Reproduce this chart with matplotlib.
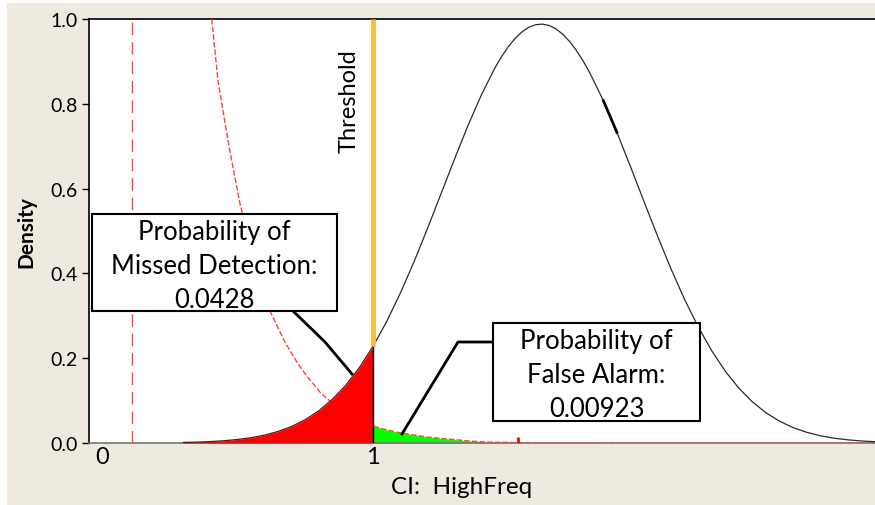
import numpy as np
import matplotlib.pyplot as plt
from matplotlib.patches import Rectangle

plt.rcParams['font.family'] = ['Lato', 'DejaVu Sans']

# black density curve
cur_x = [0.30, 0.35, 0.40, 0.45, 0.50, 0.55, 0.60, 0.65, 0.70, 0.75,
         0.80, 0.85, 0.90, 0.95, 1.00, 1.05, 1.10, 1.15, 1.20, 1.25,
         1.30, 1.35, 1.40, 1.45, 1.475, 1.50, 1.525, 1.55, 1.575, 1.60,
         1.625, 1.65, 1.675, 1.70, 1.725, 1.75, 1.775,
         1.80, 1.85, 1.90, 1.95, 2.00, 2.05, 2.10, 2.15, 2.20, 2.25,
         2.30, 2.35, 2.40, 2.45, 2.50, 2.55, 2.60, 2.65, 2.70, 2.75,
         2.80, 2.85]
cur_y = [0.0013, 0.0021, 0.0034, 0.0053, 0.0083, 0.0125, 0.0186, 0.0273, 0.0391, 0.0550,
         0.0760, 0.1029, 0.1366, 0.1781, 0.2278, 0.2859, 0.3523, 0.4253, 0.5041, 0.5862,
         0.6684, 0.7481, 0.8211, 0.8850, 0.9118, 0.9353, 0.9546, 0.9697, 0.9804, 0.9865,
         0.9880, 0.9846, 0.9767, 0.9642, 0.9473, 0.9262, 0.9015,
         0.8731, 0.8075, 0.7327, 0.6521, 0.5695, 0.4880, 0.4102, 0.3383, 0.2739, 0.2174,
         0.1693, 0.1293, 0.0970, 0.0713, 0.0515, 0.0364, 0.0253, 0.0172, 0.0115, 0.0076,
         0.0049, 0.0031]

# red dashed density curve
dash_x = [0.405, 0.428, 0.469, 0.509, 0.55, 0.59, 0.62, 0.675, 0.72, 0.756,
          0.804, 0.841, 0.88, 0.92, 0.96, 1.00, 1.05, 1.10, 1.20, 1.35,
          1.42, 1.60, 2.00, 2.85]
dash_y = [1.0, 0.854, 0.698, 0.565, 0.46, 0.37, 0.311, 0.238, 0.19, 0.158,
          0.120, 0.099, 0.082, 0.066, 0.053, 0.040, 0.031, 0.024, 0.014, 0.005,
          0.002, 0.0005, 0.0, 0.0]

threshold = 1.0
vline_x = 0.111
glitch_x = 1.535
glitch_h = 0.013

missed_txt = "Probability of\nMissed Detection:\n0.0428"
false_txt = "Probability of\nFalse Alarm:\n0.00923"

cur_x = np.array(cur_x)
cur_y = np.array(cur_y)
dash_x = np.array(dash_x)
dash_y = np.array(dash_y)

W, H = 875, 506
fig = plt.figure(figsize=(W / 100, H / 100), dpi=100, facecolor='white')
beige = '#EEEAE0'
fig.patches.append(Rectangle((7 / W, 0), 1, (H - 4) / H, transform=fig.transFigure,
                             facecolor=beige, edgecolor='none', zorder=-10))

ax_l, ax_t, ax_b = 89, 20, 444
ax = fig.add_axes([ax_l / W, (H - ax_b) / H, (W - ax_l) / W, (ax_b - ax_t) / H])
ax.set_facecolor('white')


def axf(px, py):
    # pixel position -> axes fraction
    return (px - ax_l) / (W - ax_l), (ax_b - py) / (ax_b - ax_t)


# fills
g = dash_x >= threshold
ax.fill_between(dash_x[g], dash_y[g], color='#00FF00', lw=0, zorder=2)
ax.plot(dash_x, dash_y, color='#FF4040', lw=1, dashes=(4, 1.5), zorder=3)
m = cur_x <= threshold
ax.fill_between(cur_x[m], cur_y[m], color='#FF0000', lw=0, zorder=4)
ax.plot(cur_x, cur_y, color='#2a2a2a', lw=0.9, zorder=5)
seg = (cur_x >= 1.85) & (cur_x <= 1.90)
ax.plot(cur_x[seg], cur_y[seg], color='black', lw=2, zorder=5)
ax.vlines(glitch_x, 0, glitch_h, color='#FF0000', lw=2, zorder=5)

y_at_thr = cur_y[np.argmin(np.abs(cur_x - threshold))]
ax.vlines(threshold, 0, y_at_thr, color='black', lw=1, zorder=6)
ax.vlines(threshold, y_at_thr, 1.0, color='#F7BE3A', lw=3.5, zorder=6)
ax.axvline(vline_x, color='#FF4040', lw=1, dashes=(9, 5), zorder=3)

ax.text(*axf(349, 101), "Threshold", transform=ax.transAxes, rotation=90,
        ha='center', va='center', fontsize=17, zorder=7)

# annotation boxes
for (x0, y0, x1, y1), txt in [((92, 215, 337, 312), missed_txt),
                              ((493, 324, 700, 422), false_txt)]:
    fa, fb = axf(x0, y1)
    fc, fd = axf(x1, y0)
    ax.add_patch(Rectangle((fa, fb), fc - fa, fd - fb, transform=ax.transAxes,
                           facecolor='white', edgecolor='black', lw=1.5, zorder=8))
    ax.text((fa + fc) / 2, (fb + fd) / 2 - 0.006, txt, transform=ax.transAxes,
            ha='center', va='center', fontsize=18.5, linespacing=1.45, zorder=9)

# leader lines
for pts in [[(293, 312), (325, 343), (352, 375)],
            [(493, 343), (458, 343), (402, 435)]]:
    xs, ys = zip(*[axf(*p) for p in pts])
    ax.plot(xs, ys, color='black', lw=2, transform=ax.transAxes, zorder=7)

ax.set_xlim((ax_l - 102) / 271, (W - 102) / 271)
ax.set_ylim(0, 1.0)

ax.set_xticks([0, 1])
ax.set_xticklabels(['0', '1'], fontsize=17)
ax.tick_params(axis='x', length=0, pad=2)
ax.set_yticks([0, 0.2, 0.4, 0.6, 0.8, 1.0])
ax.set_yticklabels(['0.0', '0.2', '0.4', '0.6', '0.8', '1.0'], fontsize=14)
ax.tick_params(axis='y', length=5, width=1, pad=3)

ax.set_ylabel('Density', fontsize=15, fontweight='bold')
ax.yaxis.set_label_coords(axf(26, 0)[0], axf(0, 232)[1])
ax.set_xlabel('CI:  HighFreq', fontsize=17.5)
ax.xaxis.set_label_coords(axf(462, 0)[0], axf(0, 488)[1])
ax.xaxis.label.set_va('center')
ax.yaxis.label.set_va('center')

ax.spines['right'].set_visible(False)
ax.spines['left'].set_linewidth(1.2)
ax.spines['top'].set_linewidth(1.2)
ax.spines['bottom'].set_color('#777777')
ax.spines['bottom'].set_linewidth(1.2)

fig.savefig('out.png', dpi=100, facecolor=fig.get_facecolor())
